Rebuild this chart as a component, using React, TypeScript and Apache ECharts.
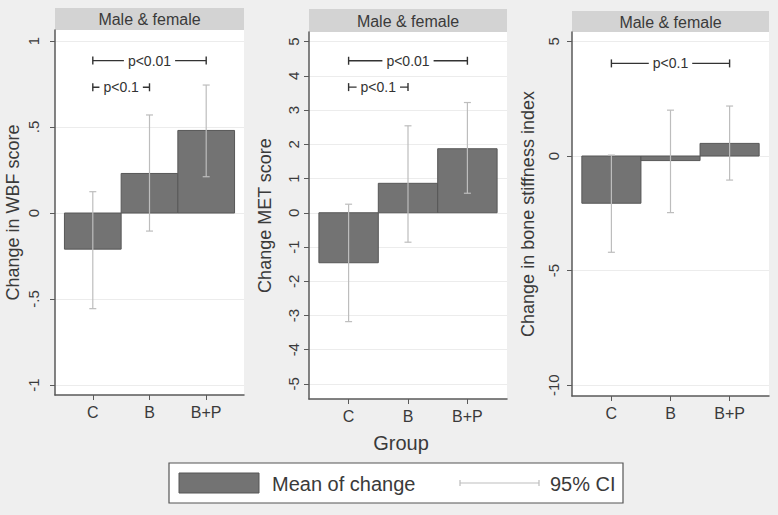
import React, { useEffect, useRef } from 'react';
import * as echarts from 'echarts';

const groups = ['C', 'B', 'B+P'];
const groupPos = [1, 2, 3];

const wbfMean = [-0.21, 0.23, 0.48];
const wbfLow = [-0.556, -0.105, 0.211];
const wbfHigh = [0.124, 0.57, 0.744];

const metMean = [-1.46, 0.86, 1.87];
const metLow = [-3.18, -0.86, 0.57];
const metHigh = [0.25, 2.54, 3.22];

const bsiMean = [-2.06, -0.2, 0.55];
const bsiLow = [-4.2, -2.47, -1.05];
const bsiHigh = [0.04, 2.0, 2.18];

const wbfTicks = [-1, -0.5, 0, 0.5, 1];
const metTicks = [-5, -4, -3, -2, -1, 0, 1, 2, 3, 4, 5];
const bsiTicks = [-10, -5, 0, 5];

const wbfBrackets = [
  { from: 1, to: 3, y: 0.886, label: 'p<0.01' },
  { from: 1, to: 2, y: 0.731, label: 'p<0.1' },
];
const metBrackets = [
  { from: 1, to: 3, y: 4.44, label: 'p<0.01' },
  { from: 1, to: 2, y: 3.67, label: 'p<0.1' },
];
const bsiBrackets = [{ from: 1, to: 3, y: 4.04, label: 'p<0.1' }];

const yTitles = ['Change in WBF score', 'Change MET score', 'Change in bone stiffness index'];
const stripLabel = 'Male & female';
const xTitle = 'Group';
const legendLabels = ['Mean of change', '95% CI'];

const FONT = '"Liberation Sans", Arial, sans-serif';
const TEXT = '#3a3a3a';
const BAR = '#737373';
const BAR_EDGE = '#575757';
const CI = '#bdbdbd';
const AXIS = '#5a5a5a';

const panels = [
  { mean: wbfMean, low: wbfLow, high: wbfHigh, ticks: wbfTicks, brackets: wbfBrackets, min: -1.058, max: 1.064, left: 55, right: 244, top: 30, bottom: 395, stripTop: 8, labelMargin: 14, nameGap: 33 },
  { mean: metMean, low: metLow, high: metHigh, ticks: metTicks, brackets: metBrackets, min: -5.44, max: 5.28, left: 309, right: 507, top: 32, bottom: 399, stripTop: 9, labelMargin: 8, nameGap: 35 },
  { mean: bsiMean, low: bsiLow, high: bsiHigh, ticks: bsiTicks, brackets: bsiBrackets, min: -10.47, max: 5.41, left: 572, right: 769, top: 32, bottom: 396, stripTop: 11, labelMargin: 11, nameGap: 35 },
];

const W = 778;
const H = 515;

const fmt = (v: number) => String(v).replace('0.', '.');

export default function App() {
  const ref = useRef<HTMLDivElement>(null);
  useEffect(() => {
    if (!ref.current) return;
    const chart = echarts.init(ref.current, null, { renderer: 'svg' });

    const grid: any[] = [];
    const xAxis: any[] = [];
    const yAxis: any[] = [];
    const series: any[] = [];
    const graphic: any[] = [];

    panels.forEach((p, i) => {
      grid.push({
        left: p.left,
        width: p.right - p.left,
        top: p.top,
        height: p.bottom - p.top,
        show: true,
        backgroundColor: '#ffffff',
        borderWidth: 0,
      });
      xAxis.push({
        type: 'value',
        gridIndex: i,
        min: 1 / 3,
        max: 11 / 3,
        axisLine: { show: true, onZero: false, lineStyle: { color: AXIS, width: 1.5 } },
        axisTick: { show: true, customValues: groupPos, length: 5, lineStyle: { color: AXIS, width: 1 } },
        axisLabel: {
          show: true,
          customValues: groupPos,
          formatter: (v: number) => groups[Math.round(v) - 1] ?? '',
          color: TEXT,
          fontSize: 16,
          fontFamily: FONT,
          margin: 9,
        },
        splitLine: { show: false },
      });
      yAxis.push({
        type: 'value',
        gridIndex: i,
        min: p.min,
        max: p.max,
        axisLine: { show: true, onZero: false, lineStyle: { color: AXIS, width: 1.5 } },
        axisTick: { show: true, customValues: p.ticks, length: 5, lineStyle: { color: AXIS, width: 1 } },
        axisLabel: {
          show: true,
          customValues: p.ticks,
          formatter: fmt,
          rotate: 90,
          color: TEXT,
          fontSize: 15,
          fontFamily: FONT,
          margin: p.labelMargin,
        },
        splitLine: { show: true, lineStyle: { color: '#ececec', width: 1 } },
        name: yTitles[i],
        nameLocation: 'middle',
        nameRotate: 90,
        nameGap: p.nameGap,
        nameTextStyle: { color: TEXT, fontSize: 18, fontFamily: FONT },
      });

      series.push({
        type: 'custom',
        xAxisIndex: i,
        yAxisIndex: i,
        clip: false,
        encode: { x: 0, y: 1 },
        data: groupPos.map((x, k) => [x, p.mean[k]]),
        renderItem: (params: any, api: any) => {
          const x = api.value(0);
          const y = api.value(1);
          const a = api.coord([x - 0.5, y]);
          const b = api.coord([x + 0.5, 0]);
          return {
            type: 'rect',
            shape: { x: a[0], y: Math.min(a[1], b[1]), width: b[0] - a[0], height: Math.abs(b[1] - a[1]) },
            style: { fill: BAR, stroke: BAR_EDGE, lineWidth: 1 },
          };
        },
      });

      series.push({
        type: 'custom',
        xAxisIndex: i,
        yAxisIndex: i,
        clip: false,
        encode: { x: 0, y: [1, 2] },
        data: groupPos.map((x, k) => [x, p.low[k], p.high[k]]),
        renderItem: (params: any, api: any) => {
          const x = api.value(0);
          const lo = api.coord([x, api.value(1)]);
          const hi = api.coord([x, api.value(2)]);
          const cap = 3.5;
          const st = { stroke: CI, lineWidth: 1.2 };
          return {
            type: 'group',
            children: [
              { type: 'line', shape: { x1: lo[0], y1: lo[1], x2: hi[0], y2: hi[1] }, style: st },
              { type: 'line', shape: { x1: lo[0] - cap, y1: lo[1], x2: lo[0] + cap, y2: lo[1] }, style: st },
              { type: 'line', shape: { x1: hi[0] - cap, y1: hi[1], x2: hi[0] + cap, y2: hi[1] }, style: st },
            ],
          };
        },
      });

      series.push({
        type: 'custom',
        xAxisIndex: i,
        yAxisIndex: i,
        clip: false,
        encode: { x: [0, 1], y: 2 },
        data: p.brackets.map((b) => [b.from, b.to, b.y]),
        renderItem: (params: any, api: any) => {
          const a = api.coord([api.value(0), api.value(2)]);
          const b = api.coord([api.value(1), api.value(2)]);
          const label = p.brackets[params.dataIndex].label;
          const st = { stroke: '#333333', lineWidth: 1.4 };
          const cap = 4;
          return {
            type: 'group',
            children: [
              { type: 'line', shape: { x1: a[0], y1: a[1], x2: b[0], y2: b[1] }, style: st },
              { type: 'line', shape: { x1: a[0], y1: a[1] - cap, x2: a[0], y2: a[1] + cap }, style: st },
              { type: 'line', shape: { x1: b[0], y1: b[1] - cap, x2: b[0], y2: b[1] + cap }, style: st },
              {
                type: 'text',
                x: (a[0] + b[0]) / 2,
                y: a[1],
                style: {
                  text: label,
                  fill: '#333333',
                  fontSize: 14,
                  fontFamily: FONT,
                  align: 'center',
                  verticalAlign: 'middle',
                  backgroundColor: '#ffffff',
                  padding: [1, 4],
                },
              },
            ],
          };
        },
      });

      graphic.push({
        type: 'rect',
        shape: { x: p.left, y: p.stripTop, width: p.right - p.left, height: p.top - p.stripTop },
        style: { fill: '#d3d3d3' },
      });
      graphic.push({
        type: 'text',
        x: (p.left + p.right) / 2,
        y: (p.stripTop + p.top) / 2 + 0.5,
        style: { text: stripLabel, fill: TEXT, fontSize: 16, fontFamily: FONT, align: 'center', verticalAlign: 'middle' },
      });
    });

    graphic.push({
      type: 'text',
      x: 401,
      y: 443,
      style: { text: xTitle, fill: TEXT, fontSize: 20, fontFamily: FONT, align: 'center', verticalAlign: 'middle' },
    });

    graphic.push({
      type: 'rect',
      shape: { x: 169, y: 463, width: 454, height: 40 },
      style: { fill: '#ffffff', stroke: '#555555', lineWidth: 1.2 },
    });
    graphic.push({
      type: 'rect',
      shape: { x: 179, y: 473, width: 80, height: 20 },
      style: { fill: BAR, stroke: BAR_EDGE, lineWidth: 1 },
    });
    graphic.push({
      type: 'text',
      x: 272,
      y: 484,
      style: { text: legendLabels[0], fill: TEXT, fontSize: 20, fontFamily: FONT, align: 'left', verticalAlign: 'middle' },
    });
    graphic.push({ type: 'line', shape: { x1: 460, y1: 483, x2: 539, y2: 483 }, style: { stroke: CI, lineWidth: 1.2 } });
    graphic.push({ type: 'line', shape: { x1: 460, y1: 480, x2: 460, y2: 486 }, style: { stroke: CI, lineWidth: 1.2 } });
    graphic.push({ type: 'line', shape: { x1: 539, y1: 480, x2: 539, y2: 486 }, style: { stroke: CI, lineWidth: 1.2 } });
    graphic.push({
      type: 'text',
      x: 550,
      y: 484,
      style: { text: legendLabels[1], fill: TEXT, fontSize: 20, fontFamily: FONT, align: 'left', verticalAlign: 'middle' },
    });

    chart.setOption({
      animation: false,
      backgroundColor: '#efefef',
      grid,
      xAxis,
      yAxis,
      series,
      graphic,
    });

    return () => chart.dispose();
  }, []);

  return <div ref={ref} style={{ position: 'fixed', left: 0, top: 0, width: W, height: H }} />;
}
